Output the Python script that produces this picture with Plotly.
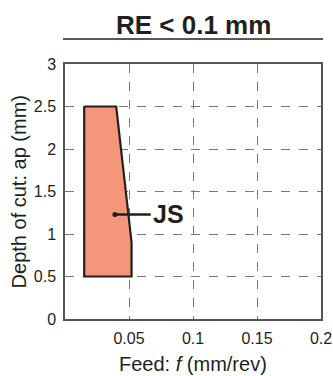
import plotly.graph_objects as go

# Data
region_feed = [0.015, 0.04, 0.052, 0.052, 0.015, 0.015]
region_depth = [2.5, 2.5, 0.9, 0.5, 0.5, 2.5]
label_name = "JS"
label_point = (0.039, 1.23)
label_line_end = 0.067
x_ticks = [0.05, 0.1, 0.15, 0.2]
x_tick_text = ["0.05", "0.1", "0.15", "0.2"]
y_ticks = [0, 0.5, 1, 1.5, 2, 2.5, 3]
y_tick_text = ["0", "0.5", "1", "1.5", "2", "2.5", "3"]
title_text = "RE < 0.1 mm"

FONT = "Liberation Sans, Arial, sans-serif"
fig = go.Figure()

fig.add_trace(go.Scatter(
    x=region_feed, y=region_depth, mode="lines", fill="toself",
    fillcolor="#F4967A", line=dict(color="#231F20", width=2.2),
    hoverinfo="skip", showlegend=False))

fig.add_trace(go.Scatter(
    x=[label_point[0], label_line_end], y=[label_point[1], label_point[1]],
    mode="lines", line=dict(color="#231F20", width=2.5),
    showlegend=False, hoverinfo="skip"))
fig.add_trace(go.Scatter(
    x=[label_point[0]], y=[label_point[1]], mode="markers",
    marker=dict(color="#231F20", size=5), showlegend=False, hoverinfo="skip"))

fig.add_annotation(x=label_line_end, y=label_point[1], xref="x", yref="y",
                   text="<b>" + label_name + "</b>", showarrow=False,
                   xanchor="left", yanchor="middle", xshift=0,
                   font=dict(family=FONT, size=25, color="#231F20"))

fig.add_annotation(x=0.5, y=1.153, xref="paper", yref="paper",
                   text="<b>" + title_text + "</b>", showarrow=False,
                   xanchor="center", yanchor="middle",
                   font=dict(family=FONT, size=26, color="#231F20"))
fig.add_shape(type="line", xref="paper", yref="paper", x0=-0.008, x1=1.008,
              y0=1.098, y1=1.098, line=dict(color="#231F20", width=1.5))

fig.add_annotation(x=0.5, y=-0.178, xref="paper", yref="paper",
                   text="Feed: <i>f</i> (mm/rev)", showarrow=False,
                   xanchor="center", yanchor="middle",
                   font=dict(family=FONT, size=20, color="#231F20"))
fig.add_annotation(x=-0.18, y=0.5, xref="paper", yref="paper",
                   text="Depth of cut: ap (mm)", showarrow=False, textangle=-90,
                   xanchor="center", yanchor="middle",
                   font=dict(family=FONT, size=20, color="#231F20"))

fig.update_xaxes(range=[0, 0.2], tickvals=x_ticks, ticktext=x_tick_text,
                 showgrid=True, gridcolor="#777777", griddash="dash", gridwidth=1,
                 showline=True, linecolor="#555555", linewidth=1.5, mirror=True,
                 ticks="", zeroline=False, fixedrange=True, automargin=False,
                 ticklabelstandoff=4,
                 tickfont=dict(family=FONT, size=16, color="#231F20"))
fig.update_yaxes(range=[0, 3], tickvals=y_ticks, ticktext=y_tick_text,
                 showgrid=True, gridcolor="#777777", griddash="dash", gridwidth=1,
                 showline=True, linecolor="#555555", linewidth=1.5, mirror=True,
                 ticks="", zeroline=False, fixedrange=True, automargin=False,
                 ticklabelstandoff=4,
                 tickfont=dict(family=FONT, size=16, color="#231F20"))

fig.update_layout(width=333, height=376,
                  margin=dict(l=65, r=12, t=64, b=57),
                  plot_bgcolor="white", paper_bgcolor="white",
                  showlegend=False)

fig.write_html("out.html", config={"displayModeBar": False})
